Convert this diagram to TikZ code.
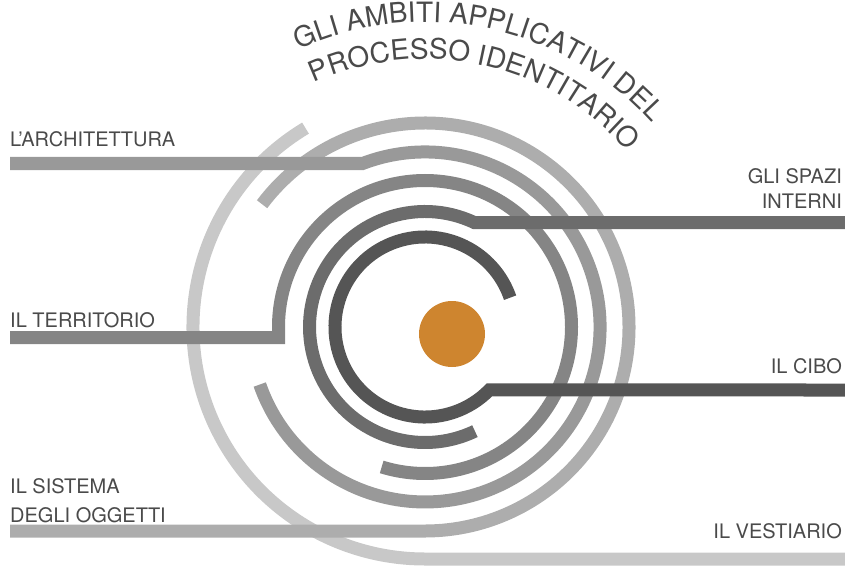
\documentclass[tikz,border=0pt]{standalone}
\usepackage{fontspec}
\setmainfont{TeX Gyre Heros}
\usetikzlibrary{decorations.text}

\definecolor{ringcibo}{HTML}{555555}
\definecolor{ringspazi}{HTML}{6C6C6C}
\definecolor{ringterr}{HTML}{858585}
\definecolor{ringarch}{HTML}{999999}
\definecolor{ringsist}{HTML}{ADADAD}
\definecolor{ringvest}{HTML}{C8C8C8}
\definecolor{labelgrey}{HTML}{4A4A4A}
\definecolor{dotorange}{HTML}{CE852F}

\newcommand\ambitifont{\fontsize{28}{32}\selectfont\color{labelgrey}}

\begin{document}
\begin{tikzpicture}[x=1pt, y=1pt,
    band/.style={line width=13pt},
    lbl/.style={inner sep=0pt, text=labelgrey, font=\fontsize{20}{26}\selectfont}]
  \useasboundingbox (0,0) rectangle (845,566);
  \coordinate (C) at (425,239);

  \node[lbl, anchor=base west] (archi) at (10,419) {L’ARCHITETTURA};
  \node[lbl, anchor=base west] (terr) at (10,239) {IL TERRITORIO};
  \node[lbl, anchor=base west, align=left, font=\fontsize{20}{28.5}\selectfont] (sist) at (10,44) {IL SISTEMA\\DEGLI OGGETTI};
  \node[lbl, anchor=base east, align=right, font=\fontsize{20}{25}\selectfont] (spazi) at (842,358) {GLI SPAZI\\INTERNI};
  \node[lbl, anchor=base east] (cibo) at (842,193) {IL CIBO};
  \node[lbl, anchor=base east] (vest) at (842,28) {IL VESTIARIO};

  \coordinate (vest-end) at (845,7);
  \coordinate (sist-end) at (10,35);
  \coordinate (terr-end) at (10,228.5);
  \coordinate (terr-in) at (278.5,239);
  \coordinate (archi-end) at (10,402.5);
  \coordinate (archi-in) at (362.6,402.5);
  \coordinate (spazi-end) at (845,343.5);
  \coordinate (spazi-in) at (474.2,343.5);
  \coordinate (cibo-end) at (845,176);

  \draw[band, ringvest] (C) ++(121:232) arc[start angle=121, end angle=270, radius=232] -- (vest-end);
  \draw[band, ringsist] (C) ++(143:204) arc[start angle=143, end angle=-90, radius=204] -- (sist-end);
  \draw[band, ringarch] (archi-end) -- (archi-in) arc[start angle=110.9, end angle=-160.8, radius=175];
  \draw[band, ringterr] (terr-end) -| (terr-in) arc[start angle=180, end angle=-107.2, radius=146.5];
  \draw[band, ringspazi] (spazi-end) -- (spazi-in) arc[start angle=64.8, end angle=295.6, radius=115.5];
  \draw[band, ringcibo] (C) ++(19:90) arc[start angle=19, end angle=315.6, radius=90] -- (cibo-end);

  \node[circle, fill=dotorange, minimum size=66pt, inner sep=0pt] (dot) at (452,232) {};

  \path[decorate, decoration={text along path, text align=left,
      text={|\ambitifont|GLI AMBITI APPLICATIVI DEL}}]
    (C) ++(114.5:305) arc[start angle=114.5, end angle=20, radius=305];
  \path[decorate, decoration={text along path, text align=left,
      text={|\ambitifont|PROCESSO IDENTITARIO}}]
    (C) ++(114.5:268) arc[start angle=114.5, end angle=20, radius=268];
\end{tikzpicture}
\end{document}
